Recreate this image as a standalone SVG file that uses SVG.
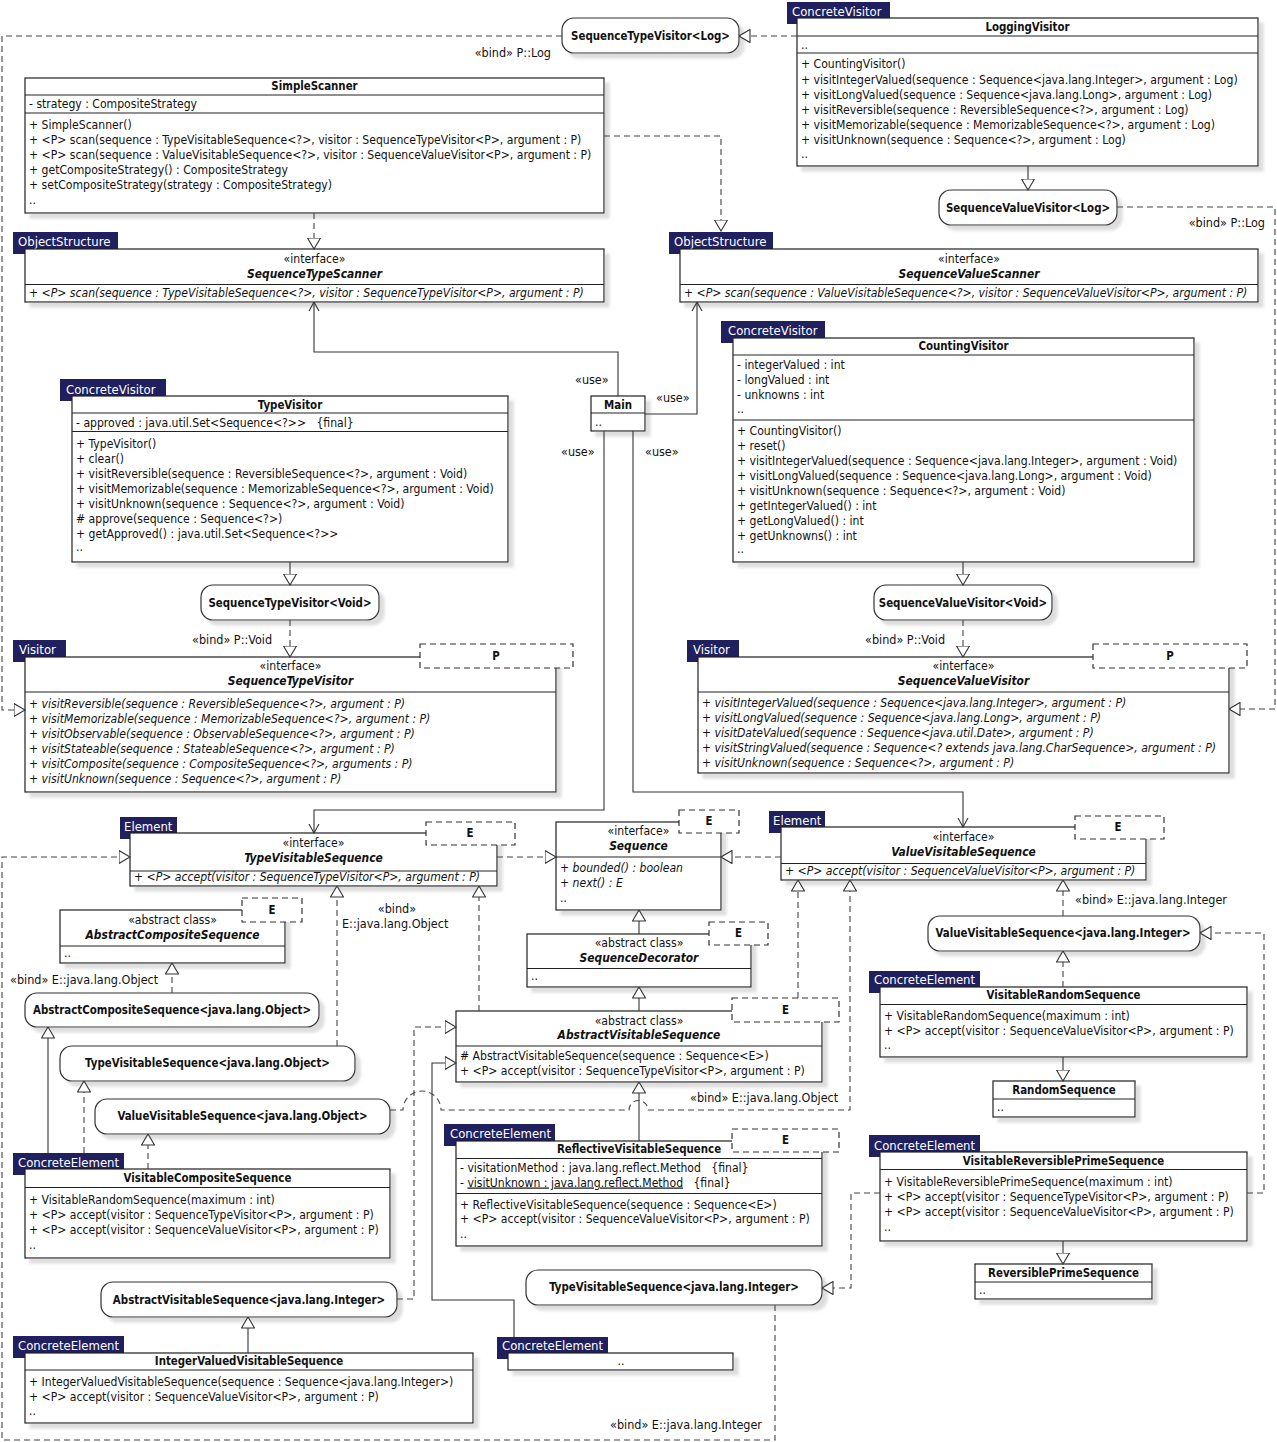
<svg xmlns="http://www.w3.org/2000/svg" width="1277" height="1442" viewBox="0 0 1277 1442">
<style>
text{font-family:"DejaVu Sans Condensed","DejaVu Sans","Liberation Sans",sans-serif;font-stretch:condensed;font-size:12.1px;fill:#111}
.b{fill:#fff;stroke:#222;stroke-width:1.2}
.r{fill:#fff;stroke:#333;stroke-width:1.2}
.s{stroke:#222;stroke-width:1.2;fill:none}
.tag{fill:#20205f}
.tt{fill:#fff;font-size:13px}
.h{font-weight:bold;text-anchor:middle;font-size:11.4px}
.c{text-anchor:middle}
.i{font-style:italic}
.hi{font-weight:bold;font-style:italic;text-anchor:middle;font-size:11.9px}
.tp{fill:#fff;stroke:#333;stroke-width:1.2;stroke-dasharray:6,4}
.ln{fill:none;stroke:#333;stroke-width:1.1}
.dl{fill:none;stroke:#444;stroke-width:1.1;stroke-dasharray:6,4}
.e{marker-end:url(#tri)}
.o{marker-end:url(#opn)}
.l{font-size:12.5px}
</style>
<defs>
<filter id="sh" filterUnits="userSpaceOnUse" x="0" y="0" width="1277" height="1442">
<feOffset in="SourceAlpha" dx="5" dy="5" result="o"/>
<feGaussianBlur in="o" stdDeviation="1.5" result="bl"/>
<feColorMatrix in="bl" type="matrix" values="0 0 0 0 0.5  0 0 0 0 0.5  0 0 0 0 0.5  0 0 0 0.5 0" result="c"/>
<feMerge><feMergeNode in="c"/><feMergeNode in="SourceGraphic"/></feMerge>
</filter>
<marker id="tri" viewBox="0 0 12 14" markerWidth="12" markerHeight="14" refX="11.5" refY="7" orient="auto" markerUnits="userSpaceOnUse"><path d="M0.5,0.5 L11.5,7 L0.5,13.5 Z" fill="#fff" stroke="#333" stroke-width="1.1"/></marker>
<marker id="opn" viewBox="0 0 10 12" markerWidth="10" markerHeight="12" refX="9.5" refY="6" orient="auto" markerUnits="userSpaceOnUse"><path d="M0.5,1 L9.5,6 L0.5,11" fill="none" stroke="#333" stroke-width="1.1"/></marker>
</defs>

<g id="SequenceTypeVisitorLog">
<rect class="r" x="562" y="18" width="177" height="35" rx="12" filter="url(#sh)"/>
<text class="h" x="650.5" y="40">SequenceTypeVisitor&lt;Log&gt;</text>
</g>

<g id="LoggingVisitor">
<rect class="tag" x="787" y="2" width="103" height="22"/>
<text class="tt" x="792" y="16">ConcreteVisitor</text>
<rect class="b" x="797" y="18" width="461" height="148" filter="url(#sh)"/>
<path class="s" d="M797,36H1258M797,53H1258"/>
<text class="h" x="1027.5" y="31">LoggingVisitor</text>
<text x="801" y="49">..</text>
<text x="801" y="68">+ CountingVisitor()</text>
<text x="801" y="83.5">+ visitIntegerValued(sequence : Sequence&lt;java.lang.Integer&gt;, argument : Log)</text>
<text x="801" y="99">+ visitLongValued(sequence : Sequence&lt;java.lang.Long&gt;, argument : Log)</text>
<text x="801" y="114">+ visitReversible(sequence : ReversibleSequence&lt;?&gt;, argument : Log)</text>
<text x="801" y="129">+ visitMemorizable(sequence : MemorizableSequence&lt;?&gt;, argument : Log)</text>
<text x="801" y="143.5">+ visitUnknown(sequence : Sequence&lt;?&gt;, argument : Log)</text>
<text x="801" y="158">..</text>
</g>

<g id="SequenceValueVisitorLog">
<rect class="r" x="939" y="190" width="178" height="35" rx="12" filter="url(#sh)"/>
<text class="h" x="1028" y="211.5">SequenceValueVisitor&lt;Log&gt;</text>
</g>

<g id="SimpleScanner">
<rect class="b" x="25" y="78" width="579" height="135" filter="url(#sh)"/>
<path class="s" d="M25,95H604M25,113H604"/>
<text class="h" x="314.5" y="90">SimpleScanner</text>
<text x="29" y="108">- strategy : CompositeStrategy</text>
<text x="29" y="129">+ SimpleScanner()</text>
<text x="29" y="144">+ &lt;P&gt; scan(sequence : TypeVisitableSequence&lt;?&gt;, visitor : SequenceTypeVisitor&lt;P&gt;, argument : P)</text>
<text x="29" y="159">+ &lt;P&gt; scan(sequence : ValueVisitableSequence&lt;?&gt;, visitor : SequenceValueVisitor&lt;P&gt;, argument : P)</text>
<text x="29" y="174">+ getCompositeStrategy() : CompositeStrategy</text>
<text x="29" y="189">+ setCompositeStrategy(strategy : CompositeStrategy)</text>
<text x="29" y="204">..</text>
</g>

<g id="SequenceTypeScanner">
<rect class="tag" x="13" y="232" width="105" height="22"/>
<text class="tt" x="18" y="246">ObjectStructure</text>
<rect class="b" x="25" y="249" width="579" height="53" filter="url(#sh)"/>
<path class="s" d="M25,284.5H604"/>
<text class="c" x="314.5" y="262.5">«interface»</text>
<text class="hi" x="314.5" y="277.5">SequenceTypeScanner</text>
<text class="i" x="29" y="296.5">+ &lt;P&gt; scan(sequence : TypeVisitableSequence&lt;?&gt;, visitor : SequenceTypeVisitor&lt;P&gt;, argument : P)</text>
</g>

<g id="SequenceValueScanner">
<rect class="tag" x="669" y="232" width="104" height="22"/>
<text class="tt" x="674" y="246">ObjectStructure</text>
<rect class="b" x="680" y="249" width="578" height="53" filter="url(#sh)"/>
<path class="s" d="M680,284.5H1258"/>
<text class="c" x="969" y="262.5">«interface»</text>
<text class="hi" x="969" y="277.5">SequenceValueScanner</text>
<text class="i" x="684" y="296.5">+ &lt;P&gt; scan(sequence : ValueVisitableSequence&lt;?&gt;, visitor : SequenceValueVisitor&lt;P&gt;, argument : P)</text>
</g>

<g id="CountingVisitor">
<rect class="tag" x="721" y="321" width="104" height="22"/>
<text class="tt" x="728" y="334.5">ConcreteVisitor</text>
<rect class="b" x="733" y="338" width="461" height="224" filter="url(#sh)"/>
<path class="s" d="M733,355H1194M733,420H1194"/>
<text class="h" x="963.5" y="349.5">CountingVisitor</text>
<text x="737" y="368.5">- integerValued : int</text>
<text x="737" y="383.5">- longValued : int</text>
<text x="737" y="398.5">- unknowns : int</text>
<text x="737" y="413">..</text>
<text x="737" y="434.5">+ CountingVisitor()</text>
<text x="737" y="449.5">+ reset()</text>
<text x="737" y="464.5">+ visitIntegerValued(sequence : Sequence&lt;java.lang.Integer&gt;, argument : Void)</text>
<text x="737" y="479.5">+ visitLongValued(sequence : Sequence&lt;java.lang.Long&gt;, argument : Void)</text>
<text x="737" y="494.5">+ visitUnknown(sequence : Sequence&lt;?&gt;, argument : Void)</text>
<text x="737" y="509.5">+ getIntegerValued() : int</text>
<text x="737" y="524.5">+ getLongValued() : int</text>
<text x="737" y="539.5">+ getUnknowns() : int</text>
<text x="737" y="553">..</text>
</g>

<g id="Main">
<rect class="b" x="591" y="396" width="54" height="35" filter="url(#sh)"/>
<path class="s" d="M591,413H645"/>
<text class="h" x="618" y="408.5">Main</text>
<text x="595" y="426">..</text>
</g>

<g id="TypeVisitor">
<rect class="tag" x="60" y="379" width="106" height="22"/>
<text class="tt" x="66" y="393.5">ConcreteVisitor</text>
<rect class="b" x="72" y="396" width="436" height="166" filter="url(#sh)"/>
<path class="s" d="M72,413H508M72,431.5H508"/>
<text class="h" x="290" y="408.5">TypeVisitor</text>
<text x="76" y="426.5" xml:space="preserve">- approved : java.util.Set&lt;Sequence&lt;?&gt;&gt;   {final}</text>
<text x="76" y="448">+ TypeVisitor()</text>
<text x="76" y="463">+ clear()</text>
<text x="76" y="478">+ visitReversible(sequence : ReversibleSequence&lt;?&gt;, argument : Void)</text>
<text x="76" y="493">+ visitMemorizable(sequence : MemorizableSequence&lt;?&gt;, argument : Void)</text>
<text x="76" y="508">+ visitUnknown(sequence : Sequence&lt;?&gt;, argument : Void)</text>
<text x="76" y="523"># approve(sequence : Sequence&lt;?&gt;)</text>
<text x="76" y="538">+ getApproved() : java.util.Set&lt;Sequence&lt;?&gt;&gt;</text>
<text x="76" y="551">..</text>
</g>

<g id="SequenceTypeVisitorVoid">
<rect class="r" x="201" y="585" width="178" height="35" rx="12" filter="url(#sh)"/>
<text class="h" x="290" y="606.5">SequenceTypeVisitor&lt;Void&gt;</text>
</g>

<g id="SequenceValueVisitorVoid">
<rect class="r" x="874" y="585" width="178" height="35" rx="12" filter="url(#sh)"/>
<text class="h" x="963" y="606.5">SequenceValueVisitor&lt;Void&gt;</text>
</g>

<g id="SequenceTypeVisitor">
<rect class="tag" x="13" y="640" width="53" height="22"/>
<text class="tt" x="19" y="654">Visitor</text>
<rect class="b" x="25" y="657" width="531" height="135" filter="url(#sh)"/>
<path class="s" d="M25,692H556"/>
<rect class="tp" x="420" y="644" width="153" height="24"/>
<text class="h" x="496" y="659.5">P</text>
<text class="c" x="290.5" y="669.5">«interface»</text>
<text class="hi" x="290.5" y="684.5">SequenceTypeVisitor</text>
<text class="i" x="29" y="708">+ visitReversible(sequence : ReversibleSequence&lt;?&gt;, argument : P)</text>
<text class="i" x="29" y="723">+ visitMemorizable(sequence : MemorizableSequence&lt;?&gt;, argument : P)</text>
<text class="i" x="29" y="738">+ visitObservable(sequence : ObservableSequence&lt;?&gt;, argument : P)</text>
<text class="i" x="29" y="753">+ visitStateable(sequence : StateableSequence&lt;?&gt;, argument : P)</text>
<text class="i" x="29" y="768">+ visitComposite(sequence : CompositeSequence&lt;?&gt;, arguments : P)</text>
<text class="i" x="29" y="783">+ visitUnknown(sequence : Sequence&lt;?&gt;, argument : P)</text>
</g>

<g id="SequenceValueVisitor">
<rect class="tag" x="687" y="640" width="52" height="22"/>
<text class="tt" x="693" y="654">Visitor</text>
<rect class="b" x="698" y="657" width="531" height="116" filter="url(#sh)"/>
<path class="s" d="M698,692H1229"/>
<rect class="tp" x="1093" y="644" width="154" height="24"/>
<text class="h" x="1170" y="659.5">P</text>
<text class="c" x="963.5" y="669.5">«interface»</text>
<text class="hi" x="963.5" y="684.5">SequenceValueVisitor</text>
<text class="i" x="702" y="706.5">+ visitIntegerValued(sequence : Sequence&lt;java.lang.Integer&gt;, argument : P)</text>
<text class="i" x="702" y="721.5">+ visitLongValued(sequence : Sequence&lt;java.lang.Long&gt;, argument : P)</text>
<text class="i" x="702" y="736.5">+ visitDateValued(sequence : Sequence&lt;java.util.Date&gt;, argument : P)</text>
<text class="i" x="702" y="751.5">+ visitStringValued(sequence : Sequence&lt;? extends java.lang.CharSequence&gt;, argument : P)</text>
<text class="i" x="702" y="766.5">+ visitUnknown(sequence : Sequence&lt;?&gt;, argument : P)</text>
</g>

<g id="TypeVisitableSequence">
<rect class="tag" x="120" y="817" width="57" height="22"/>
<text class="tt" x="124" y="831">Element</text>
<rect class="b" x="130" y="833" width="367" height="53" filter="url(#sh)"/>
<path class="s" d="M130,871H497"/>
<rect class="tp" x="426" y="822" width="89" height="23"/>
<text class="h" x="470" y="836.5">E</text>
<text class="c" x="313.5" y="847">«interface»</text>
<text class="hi" x="313.5" y="861.5">TypeVisitableSequence</text>
<text class="i" x="134" y="881">+ &lt;P&gt; accept(visitor : SequenceTypeVisitor&lt;P&gt;, argument : P)</text>
</g>

<g id="Sequence">
<rect class="b" x="556" y="822" width="165" height="88" filter="url(#sh)"/>
<path class="s" d="M556,857H721"/>
<rect class="tp" x="679" y="810" width="60" height="23"/>
<text class="h" x="709" y="824.5">E</text>
<text class="c" x="638.5" y="835">«interface»</text>
<text class="hi" x="638.5" y="850">Sequence</text>
<text class="i" x="560" y="871.5">+ bounded() : boolean</text>
<text class="i" x="560" y="887">+ next() : E</text>
<text x="560" y="902">..</text>
</g>

<g id="ValueVisitableSequence">
<rect class="tag" x="769" y="811" width="56" height="22"/>
<text class="tt" x="773" y="825">Element</text>
<rect class="b" x="781" y="827" width="365" height="53" filter="url(#sh)"/>
<path class="s" d="M781,863.5H1146"/>
<rect class="tp" x="1075" y="816" width="89" height="23"/>
<text class="h" x="1118" y="831">E</text>
<text class="c" x="963.5" y="841">«interface»</text>
<text class="hi" x="963.5" y="856">ValueVisitableSequence</text>
<text class="i" x="785" y="875">+ &lt;P&gt; accept(visitor : SequenceValueVisitor&lt;P&gt;, argument : P)</text>
</g>

<g id="AbstractCompositeSequence">
<rect class="b" x="60" y="910" width="225" height="53" filter="url(#sh)"/>
<path class="s" d="M60,946H285"/>
<rect class="tp" x="242" y="898" width="60" height="24"/>
<text class="h" x="272" y="913.5">E</text>
<text class="c" x="172.5" y="924">«abstract class»</text>
<text class="hi" x="172.5" y="938.5">AbstractCompositeSequence</text>
<text x="64" y="957">..</text>
</g>

<g id="AbstractCompositeSequenceObject">
<rect class="r" x="25" y="993" width="294" height="34" rx="12" filter="url(#sh)"/>
<text class="h" x="172" y="1013.5">AbstractCompositeSequence&lt;java.lang.Object&gt;</text>
</g>

<g id="TypeVisitableSequenceObject">
<rect class="r" x="60" y="1046" width="295" height="35" rx="12" filter="url(#sh)"/>
<text class="h" x="207.5" y="1067">TypeVisitableSequence&lt;java.lang.Object&gt;</text>
</g>

<g id="ValueVisitableSequenceObject">
<rect class="r" x="95" y="1099" width="295" height="35" rx="12" filter="url(#sh)"/>
<text class="h" x="242.5" y="1120">ValueVisitableSequence&lt;java.lang.Object&gt;</text>
</g>

<g id="VisitableCompositeSequence">
<rect class="tag" x="13" y="1153" width="111" height="22"/>
<text class="tt" x="18" y="1167">ConcreteElement</text>
<rect class="b" x="25" y="1169" width="365" height="89" filter="url(#sh)"/>
<path class="s" d="M25,1187.5H390"/>
<text class="h" x="207.5" y="1182">VisitableCompositeSequence</text>
<text x="29" y="1204">+ VisitableRandomSequence(maximum : int)</text>
<text x="29" y="1219">+ &lt;P&gt; accept(visitor : SequenceTypeVisitor&lt;P&gt;, argument : P)</text>
<text x="29" y="1234">+ &lt;P&gt; accept(visitor : SequenceValueVisitor&lt;P&gt;, argument : P)</text>
<text x="29" y="1249">..</text>
</g>

<g id="AbstractVisitableSequenceInteger">
<rect class="r" x="101" y="1282" width="296" height="35" rx="12" filter="url(#sh)"/>
<text class="h" x="249" y="1303.5">AbstractVisitableSequence&lt;java.lang.Integer&gt;</text>
</g>

<g id="IntegerValuedVisitableSequence">
<rect class="tag" x="13" y="1336" width="111" height="22"/>
<text class="tt" x="18" y="1350">ConcreteElement</text>
<rect class="b" x="25" y="1353" width="448" height="70" filter="url(#sh)"/>
<path class="s" d="M25,1370H473"/>
<text class="h" x="249" y="1365">IntegerValuedVisitableSequence</text>
<text x="29" y="1386">+ IntegerValuedVisitableSequence(sequence : Sequence&lt;java.lang.Integer&gt;)</text>
<text x="29" y="1401">+ &lt;P&gt; accept(visitor : SequenceValueVisitor&lt;P&gt;, argument : P)</text>
<text x="29" y="1415">..</text>
</g>

<g id="SequenceDecorator">
<rect class="b" x="527" y="934" width="224" height="53" filter="url(#sh)"/>
<path class="s" d="M527,968.5H751"/>
<rect class="tp" x="709" y="922" width="59" height="23"/>
<text class="h" x="738.5" y="936.5">E</text>
<text class="c" x="639" y="947">«abstract class»</text>
<text class="hi" x="639" y="962">SequenceDecorator</text>
<text x="531" y="980">..</text>
</g>

<g id="AbstractVisitableSequence">
<rect class="b" x="456" y="1011" width="366" height="71" filter="url(#sh)"/>
<path class="s" d="M456,1046H822"/>
<rect class="tp" x="732" y="998" width="107" height="24"/>
<text class="h" x="785.5" y="1013.5">E</text>
<text class="c" x="639" y="1024.5">«abstract class»</text>
<text class="hi" x="639" y="1039">AbstractVisitableSequence</text>
<text x="460" y="1059.5"># AbstractVisitableSequence(sequence : Sequence&lt;E&gt;)</text>
<text x="460" y="1074.5">+ &lt;P&gt; accept(visitor : SequenceTypeVisitor&lt;P&gt;, argument : P)</text>
</g>

<g id="ReflectiveVisitableSequence">
<rect class="tag" x="444" y="1124" width="111" height="22"/>
<text class="tt" x="450" y="1138">ConcreteElement</text>
<rect class="b" x="456" y="1141" width="366" height="105" filter="url(#sh)"/>
<path class="s" d="M456,1158.5H822M456,1193.5H822"/>
<rect class="tp" x="732" y="1129" width="107" height="23"/>
<text class="h" x="785.5" y="1143.5">E</text>
<text class="h" x="639" y="1153">ReflectiveVisitableSequence</text>
<text x="460" y="1172" xml:space="preserve">- visitationMethod : java.lang.reflect.Method   {final}</text>
<text x="460" y="1186.5" xml:space="preserve">- <tspan text-decoration="underline">visitUnknown : java.lang.reflect.Method</tspan>   {final}</text>
<text x="460" y="1208.5">+ ReflectiveVisitableSequence(sequence : Sequence&lt;E&gt;)</text>
<text x="460" y="1223">+ &lt;P&gt; accept(visitor : SequenceValueVisitor&lt;P&gt;, argument : P)</text>
<text x="460" y="1238">..</text>
</g>

<g id="TypeVisitableSequenceInteger">
<rect class="r" x="526" y="1270" width="296" height="35" rx="12" filter="url(#sh)"/>
<text class="h" x="674" y="1291">TypeVisitableSequence&lt;java.lang.Integer&gt;</text>
</g>

<g id="ConcreteElementAnon">
<rect class="tag" x="497" y="1337" width="111" height="22"/>
<text class="tt" x="502" y="1350">ConcreteElement</text>
<rect class="b" x="508" y="1353" width="225" height="17" filter="url(#sh)"/>
<text class="c" x="621" y="1365">..</text>
</g>

<g id="ValueVisitableSequenceInteger">
<rect class="r" x="928" y="916" width="272" height="35" rx="12" filter="url(#sh)"/>
<text class="h" x="1063" y="937">ValueVisitableSequence&lt;java.lang.Integer&gt;</text>
</g>

<g id="VisitableRandomSequence">
<rect class="tag" x="869" y="971" width="111" height="22"/>
<text class="tt" x="874" y="984">ConcreteElement</text>
<rect class="b" x="880" y="987" width="367" height="70" filter="url(#sh)"/>
<path class="s" d="M880,1004.5H1247"/>
<text class="h" x="1063.5" y="999">VisitableRandomSequence</text>
<text x="884" y="1019.5">+ VisitableRandomSequence(maximum : int)</text>
<text x="884" y="1034.5">+ &lt;P&gt; accept(visitor : SequenceValueVisitor&lt;P&gt;, argument : P)</text>
<text x="884" y="1049">..</text>
</g>

<g id="RandomSequence">
<rect class="b" x="993" y="1081" width="142" height="36" filter="url(#sh)"/>
<path class="s" d="M993,1099H1135"/>
<text class="h" x="1064" y="1093.5">RandomSequence</text>
<text x="997" y="1111">..</text>
</g>

<g id="VisitableReversiblePrimeSequence">
<rect class="tag" x="869" y="1135" width="111" height="22"/>
<text class="tt" x="874" y="1149.5">ConcreteElement</text>
<rect class="b" x="880" y="1152" width="367" height="89" filter="url(#sh)"/>
<path class="s" d="M880,1169.5H1247"/>
<text class="h" x="1063.5" y="1164.5">VisitableReversiblePrimeSequence</text>
<text x="884" y="1186">+ VisitableReversiblePrimeSequence(maximum : int)</text>
<text x="884" y="1201">+ &lt;P&gt; accept(visitor : SequenceTypeVisitor&lt;P&gt;, argument : P)</text>
<text x="884" y="1216">+ &lt;P&gt; accept(visitor : SequenceValueVisitor&lt;P&gt;, argument : P)</text>
<text x="884" y="1231">..</text>
</g>

<g id="ReversiblePrimeSequence">
<rect class="b" x="975" y="1264" width="177" height="35" filter="url(#sh)"/>
<path class="s" d="M975,1282H1152"/>
<text class="h" x="1063.5" y="1276.5">ReversiblePrimeSequence</text>
<text x="979" y="1294">..</text>
</g>

<g id="connectors">
<path class="dl e" d="M562,36H2V710H25"/>
<path class="dl e" d="M797,36H739"/>
<path class="ln e" d="M1028,166V190"/>
<path class="dl e" d="M1117,207H1275V709H1229"/>
<path class="dl e" d="M314,213V249"/>
<path class="dl e" d="M604,136H721V231"/>
<path class="ln e" d="M290,562V585"/>
<path class="dl e" d="M290,620V657"/>
<path class="ln e" d="M963,562V585"/>
<path class="dl e" d="M963,620V657"/>
<path class="dl e" d="M781,857H721"/>
<path class="dl e" d="M497,857H556"/>
<path class="dl e" d="M775,1305V1440H2V857H130"/>
<path class="ln e" d="M639,934V910"/>
<path class="ln e" d="M639,1011V987"/>
<path class="dl e" d="M479,1011V886"/>
<path class="dl e" d="M798,998V880"/>
<path class="ln e" d="M639,1141V1082"/>
<path class="dl e" d="M390,1110H403A19,19 0 0 1 441,1110H629A9.5,9.5 0 0 1 648,1110H850V880"/>
<path class="ln e" d="M48,1153V1027"/>
<path class="dl e" d="M84,1153V1081"/>
<path class="dl e" d="M148,1169V1134"/>
<path class="dl e" d="M172,993V963"/>
<path class="dl e" d="M337,1046V886"/>
<path class="dl e" d="M397,1299H414V1027H456"/>
<path class="ln e" d="M514,1337V1300H432V1063H456"/>
<path class="ln e" d="M248,1353V1317"/>
<path class="dl e" d="M1063,987V951"/>
<path class="dl e" d="M1063,916V880"/>
<path class="ln e" d="M1063,1057V1081"/>
<path class="ln e" d="M1063,1241V1264"/>
<path class="dl e" d="M1247,1193H1264V933H1200"/>
<path class="dl e" d="M880,1193H851V1288H822"/>
<path class="ln o" d="M618,396V352H314V302"/>
<path class="ln o" d="M645,414H697V302"/>
<path class="ln o" d="M604,431V810H314V833"/>
<path class="ln o" d="M633,431V792H963V827"/>
<text class="l" x="551" y="56.5" text-anchor="end">«bind» P::Log</text>
<text class="l" x="1265" y="227" text-anchor="end">«bind» P::Log</text>
<text class="l" x="575" y="384">«use»</text>
<text class="l" x="656" y="402">«use»</text>
<text class="l" x="561" y="456">«use»</text>
<text class="l" x="645" y="456">«use»</text>
<text class="l" x="192" y="643.5">«bind» P::Void</text>
<text class="l" x="865" y="643.5">«bind» P::Void</text>
<text class="l c" x="397" y="912.5">«bind»</text>
<text class="l" x="342" y="927.5">E::java.lang.Object</text>
<text class="l" x="10" y="983.5">«bind» E::java.lang.Object</text>
<text class="l" x="690" y="1101.5">«bind» E::java.lang.Object</text>
<text class="l" x="1075" y="903.5">«bind» E::java.lang.Integer</text>
<text class="l" x="610" y="1428.5">«bind» E::java.lang.Integer</text>
</g>
</svg>
